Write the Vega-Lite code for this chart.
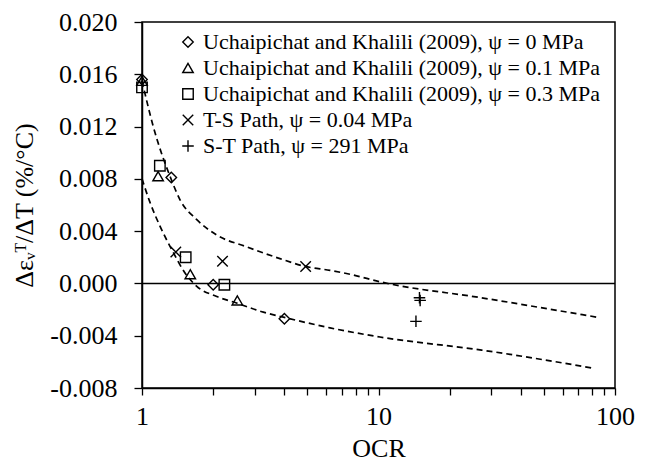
{
  "$schema": "https://vega.github.io/schema/vega-lite/v6.json",
  "width": 473,
  "height": 366,
  "autosize": "none",
  "padding": {"left": 142, "top": 22, "right": 32, "bottom": 76},
  "background": "white",
  "config": {
    "font": "Liberation Serif",
    "view": {"stroke": "black", "strokeWidth": 1.5},
    "axis": {
      "grid": false,
      "domainColor": "black",
      "domainWidth": 1.5,
      "tickColor": "black",
      "tickWidth": 1.3,
      "labelColor": "black",
      "titleColor": "black",
      "labelFont": "Liberation Serif",
      "titleFont": "Liberation Serif",
      "titleFontWeight": "normal",
      "labelFontSize": 26,
      "titleFontSize": 26
    }
  },
  "datasets": {
    "pts": [
      {"ocr": 1.0, "val": 0.0156, "series": "Uchaipichat and Khalili (2009), ψ = 0 MPa"},
      {"ocr": 1.33, "val": 0.0081, "series": "Uchaipichat and Khalili (2009), ψ = 0 MPa"},
      {"ocr": 2.0, "val": -0.0001, "series": "Uchaipichat and Khalili (2009), ψ = 0 MPa"},
      {"ocr": 4.0, "val": -0.0027, "series": "Uchaipichat and Khalili (2009), ψ = 0 MPa"},
      {"ocr": 1.0, "val": 0.0155, "series": "Uchaipichat and Khalili (2009), ψ = 0.1 MPa"},
      {"ocr": 1.17, "val": 0.0082, "series": "Uchaipichat and Khalili (2009), ψ = 0.1 MPa"},
      {"ocr": 1.6, "val": 0.0007, "series": "Uchaipichat and Khalili (2009), ψ = 0.1 MPa"},
      {"ocr": 2.53, "val": -0.0013, "series": "Uchaipichat and Khalili (2009), ψ = 0.1 MPa"},
      {"ocr": 1.0, "val": 0.0150, "series": "Uchaipichat and Khalili (2009), ψ = 0.3 MPa"},
      {"ocr": 1.19, "val": 0.0090, "series": "Uchaipichat and Khalili (2009), ψ = 0.3 MPa"},
      {"ocr": 1.53, "val": 0.0020, "series": "Uchaipichat and Khalili (2009), ψ = 0.3 MPa"},
      {"ocr": 2.23, "val": -0.0001, "series": "Uchaipichat and Khalili (2009), ψ = 0.3 MPa"},
      {"ocr": 1.39, "val": 0.0024, "series": "T-S Path, ψ = 0.04 MPa"},
      {"ocr": 2.19, "val": 0.0017, "series": "T-S Path, ψ = 0.04 MPa"},
      {"ocr": 4.92, "val": 0.0013, "series": "T-S Path, ψ = 0.04 MPa"},
      {"ocr": 14.9, "val": -0.0011, "series": "S-T Path, ψ = 291 MPa"},
      {"ocr": 15.0, "val": -0.0013, "series": "S-T Path, ψ = 291 MPa"},
      {"ocr": 14.4, "val": -0.0029, "series": "S-T Path, ψ = 291 MPa"}
    ],
    "curves": [
      {"curve": "upper", "ocr": 1.0, "val": 0.0155},
      {"curve": "upper", "ocr": 1.116, "val": 0.0120},
      {"curve": "upper", "ocr": 1.32, "val": 0.0081},
      {"curve": "upper", "ocr": 1.448, "val": 0.0064},
      {"curve": "upper", "ocr": 1.7, "val": 0.0049},
      {"curve": "upper", "ocr": 2.07, "val": 0.0037},
      {"curve": "upper", "ocr": 2.77, "val": 0.0028},
      {"curve": "upper", "ocr": 3.83, "val": 0.0019},
      {"curve": "upper", "ocr": 4.9, "val": 0.0013},
      {"curve": "upper", "ocr": 6.24, "val": 0.0010},
      {"curve": "upper", "ocr": 7.58, "val": 0.0007},
      {"curve": "upper", "ocr": 10.3, "val": 0.0001},
      {"curve": "upper", "ocr": 27.3, "val": -0.0011},
      {"curve": "upper", "ocr": 85, "val": -0.0026},
      {"curve": "lower", "ocr": 1.0, "val": 0.0080},
      {"curve": "lower", "ocr": 1.081, "val": 0.0062},
      {"curve": "lower", "ocr": 1.19, "val": 0.0044},
      {"curve": "lower", "ocr": 1.335, "val": 0.0026},
      {"curve": "lower", "ocr": 1.52, "val": 0.0008},
      {"curve": "lower", "ocr": 1.7, "val": -0.0002},
      {"curve": "lower", "ocr": 2.07, "val": -0.0010},
      {"curve": "lower", "ocr": 2.51, "val": -0.0015},
      {"curve": "lower", "ocr": 3.26, "val": -0.0022},
      {"curve": "lower", "ocr": 4.0, "val": -0.0026},
      {"curve": "lower", "ocr": 6.24, "val": -0.0034},
      {"curve": "lower", "ocr": 10.15, "val": -0.0041},
      {"curve": "lower", "ocr": 27.3, "val": -0.0051},
      {"curve": "lower", "ocr": 82, "val": -0.0065}
    ]
  },
  "layer": [
    {
      "data": {"name": "curves"},
      "mark": {"type": "line", "stroke": "black", "strokeWidth": 1.7, "strokeDash": [6, 4], "interpolate": "monotone"},
      "encoding": {
        "x": {"field": "ocr", "type": "quantitative"},
        "y": {"field": "val", "type": "quantitative"},
        "detail": {"field": "curve"}
      }
    },
    {
      "data": {"values": [{}]},
      "mark": {"type": "rule", "stroke": "black", "strokeWidth": 1.5},
      "encoding": {"y": {"datum": 0}}
    },
    {
      "data": {"name": "pts"},
      "mark": {"type": "point", "filled": false, "strokeWidth": 1.4, "size": 110, "opacity": 1},
      "encoding": {
        "x": {
          "field": "ocr", "type": "quantitative",
          "scale": {"type": "log", "domain": [1, 100], "nice": false},
          "axis": {
            "values": [1, 2, 3, 4, 5, 6, 7, 8, 9, 10, 20, 30, 40, 50, 60, 70, 80, 90, 100],
            "labelExpr": "datum.value == 1 || datum.value == 10 || datum.value == 100 ? format(datum.value, 'd') : ''",
            "labelFlush": false,
            "tickSize": 7,
            "labelPadding": 8, "title": "OCR", "titlePadding": 6
          }
        },
        "y": {
          "field": "val", "type": "quantitative",
          "scale": {"domain": [-0.008, 0.02], "nice": false, "zero": false},
          "axis": {
            "values": [-0.008, -0.004, 0, 0.004, 0.008, 0.012, 0.016, 0.02],
            "labelExpr": "replace(format(datum.value, '.3f'), '−', '-')",
            "tickSize": 8,
            "labelPadding": 17,
            "title": "Δεᵥᵀ/ΔT (%/°C)", "titleX": -118, "titleY": 183, "titleAngle": -90, "titleAlign": "center", "titleBaseline": "middle"
          }
        },
        "color": {
          "field": "series", "type": "nominal",
          "scale": {
            "domain": ["Uchaipichat and Khalili (2009), ψ = 0 MPa", "Uchaipichat and Khalili (2009), ψ = 0.1 MPa", "Uchaipichat and Khalili (2009), ψ = 0.3 MPa", "T-S Path, ψ = 0.04 MPa", "S-T Path, ψ = 291 MPa"],
            "range": ["black", "black", "black", "black", "black"]
          },
          "legend": {
            "title": null,
            "orient": "none",
            "legendX": 35,
            "legendY": 9,
            "padding": 0,
            "rowPadding": 4,
            "labelFont": "Liberation Serif",
            "labelFontSize": 22,
            "labelColor": "black",
            "labelOffset": 4,
            "labelLimit": 600,
            "symbolSize": 110,
            "symbolStrokeWidth": 1.4
          }
        },
        "shape": {
          "field": "series", "type": "nominal",
          "scale": {
            "domain": ["Uchaipichat and Khalili (2009), ψ = 0 MPa", "Uchaipichat and Khalili (2009), ψ = 0.1 MPa", "Uchaipichat and Khalili (2009), ψ = 0.3 MPa", "T-S Path, ψ = 0.04 MPa", "S-T Path, ψ = 291 MPa"],
            "range": ["diamond", "triangle-up", "square", "M-1,-1L1,1M-1,1L1,-1", "M0,-1.1L0,1.1M-1.1,0L1.1,0"]
          },
          "legend": {
            "title": null,
            "orient": "none",
            "legendX": 35,
            "legendY": 9,
            "padding": 0,
            "rowPadding": 4,
            "labelFont": "Liberation Serif",
            "labelFontSize": 22,
            "labelColor": "black",
            "labelOffset": 4,
            "labelLimit": 600,
            "symbolSize": 110,
            "symbolStrokeWidth": 1.4
          }
        }
      }
    }
  ]
}
